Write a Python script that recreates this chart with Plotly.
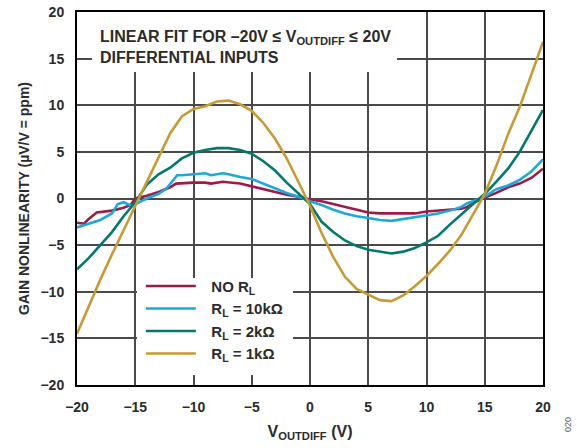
import plotly.graph_objects as go

# ---------------- data ----------------
x_vals = [-20, -19, -18, -17, -16, -15, -14, -13, -12, -11, -10, -9, -8, -7, -6, -5, -4, -3, -2, -1,
          0, 1, 2, 3, 4, 5, 6, 7, 8, 9, 10, 11, 12, 13, 14, 15, 16, 17, 18, 19, 20]

no_rl_x = [-20, -19.4, -19, -18.3, -17, -16, -15.4, -15, -14, -13, -12, -11.5, -10, -9, -8.5, -7.5, -6, -5,
           -4, -3, -2, -1, 0, 1, 2, 3, 4, 5, 6, 7, 8, 9, 10, 11, 12, 13, 13.5, 14, 15, 16, 17, 18, 19, 20]
no_rl_y = [-2.6, -2.7, -2.2, -1.5, -1.3, -1.0, -0.7, 0.0, 0.3, 0.7, 1.2, 1.6, 1.7, 1.7, 1.6, 1.8, 1.6, 1.3,
           1.0, 0.7, 0.4, 0.2, -0.1, -0.3, -0.6, -0.9, -1.2, -1.5, -1.6, -1.6, -1.6, -1.6, -1.4, -1.3, -1.2,
           -1.1, -0.9, -0.5, 0.1, 0.6, 1.2, 1.6, 2.2, 3.2]

rl10k_x = [-20, -19, -18, -17, -16.5, -16, -15.3, -15, -14, -13, -12.3, -11.4, -11, -10, -9, -8.5, -7.5, -7,
           -6, -5, -4, -3, -2, -1, 0, 1, 2, 3, 4, 5, 6, 7, 8, 9, 10, 11, 12, 13, 13.5, 14, 15, 16, 17, 18,
           19, 20]
rl10k_y = [-3.1, -2.7, -2.3, -1.6, -0.6, -0.4, -0.8, -0.6, 0.0, 0.5, 1.1, 2.5, 2.5, 2.6, 2.7, 2.5, 2.7, 2.6,
           2.3, 2.1, 1.6, 1.1, 0.6, 0.2, -0.3, -0.7, -1.2, -1.6, -1.9, -2.1, -2.3, -2.4, -2.2, -2.0, -1.8,
           -1.6, -1.3, -0.9, -0.5, -0.3, 0.2, 1.0, 1.4, 2.0, 2.9, 4.2]

rl2k_y = [-7.6, -6.4, -5.0, -3.6, -1.9, -0.4, 1.5, 2.6, 3.3, 4.3, 4.9, 5.2, 5.4, 5.4, 5.2, 4.8, 4.0, 3.0,
          1.7, 0.6, -0.6, -2.5, -3.6, -4.5, -5.1, -5.5, -5.7, -5.9, -5.7, -5.3, -4.7, -4.0, -2.8, -1.7,
          -0.6, 0.5, 1.8, 3.2, 5.0, 7.3, 9.5]

rl1k_y = [-14.5, -11.5, -8.7, -6.0, -3.4, -0.8, 1.8, 4.5, 7.0, 8.8, 9.6, 9.9, 10.4, 10.5, 10.1, 9.4, 8.1,
          6.4, 4.3, 1.8, -0.8, -3.7, -6.3, -8.4, -9.7, -10.3, -10.9, -11.0, -10.4, -9.4, -8.3, -7.0, -5.6,
          -3.9, -1.7, 0.5, 3.5, 6.9, 9.8, 13.3, 16.8]

series_names = ["\u2002\u2009NO R<sub>L</sub>", "\u2002\u2009R<sub>L</sub> = 10kΩ",
                "\u2002\u2009R<sub>L</sub> = 2kΩ", "\u2002\u2009R<sub>L</sub> = 1kΩ"]
series_colors = ["#9E1B47", "#1DA8DD", "#007A6C", "#C79A32"]

x_ticks = [-20, -15, -10, -5, 0, 5, 10, 15, 20]
y_ticks = [-20, -15, -10, -5, 0, 5, 10, 15, 20]

FONT = "Liberation Sans, Arial, Helvetica, sans-serif"
TXT = "#2b2b2b"

fig = go.Figure()
series = [(no_rl_x, no_rl_y), (rl10k_x, rl10k_y), (x_vals, rl2k_y), (x_vals, rl1k_y)]
for (xs, ys), name, col in zip(series, series_names, series_colors):
    fig.add_trace(go.Scatter(x=xs, y=ys, mode="lines", name=name,
                             line=dict(color=col, width=2.6)))

# white masks over the grid behind the note and the legend
fig.add_shape(type="rect", xref="x", yref="y", x0=-18.71, x1=7.47, y0=13.57, y1=20,
              fillcolor="white", line=dict(width=0), layer="between")
fig.add_shape(type="rect", xref="x", yref="y", x0=-14.85, x1=-1.46, y0=-18.93, y1=-8.52,
              fillcolor="white", line=dict(width=0), layer="between")

fig.add_annotation(xref="paper", yref="paper", x=0.045, y=0.906, xanchor="left", yanchor="middle",
                   align="left", showarrow=False,
                   text="LINEAR FIT FOR –20V ≤ V<sub>OUTDIFF</sub> ≤ 20V<br>DIFFERENTIAL INPUTS",
                   font=dict(family=FONT, size=16, color=TXT, weight="bold"))

fig.add_annotation(xref="paper", yref="paper", x=1.054, y=-0.107, xanchor="center", yanchor="middle",
                   showarrow=False, text="020", textangle=-90,
                   font=dict(family=FONT, size=9, color="#555555"))

axis_common = dict(showgrid=True, gridcolor="#4a4a4a", gridwidth=1.5, zeroline=False,
                   showline=True, linecolor="black", linewidth=2, mirror=True, ticks="",
                   automargin=False, ticklabelstandoff=8,
                   tickfont=dict(family=FONT, size=14, color=TXT, weight="bold"))

fig.update_xaxes(range=[-20, 20], tickvals=x_ticks, ticktext=[str(v).replace("-", "−") for v in x_ticks],
                 title=dict(text="V<sub>OUTDIFF</sub> (V)", standoff=12,
                            font=dict(family=FONT, size=16, color=TXT, weight="bold")),
                 **axis_common)
fig.update_yaxes(range=[-20, 20], tickvals=y_ticks, ticktext=[str(v).replace("-", "−") for v in y_ticks],
                 title=dict(text="GAIN NONLINEARITY (µV/V = ppm)", standoff=8,
                            font=dict(family=FONT, size=14, color=TXT, weight="bold")),
                 **axis_common)

fig.update_layout(
    width=577, height=448,
    margin=dict(l=77, r=34, t=12, b=63),
    paper_bgcolor="white", plot_bgcolor="white",
    showlegend=True,
    legend=dict(x=0.137, y=0.309, xanchor="left", yanchor="top", bgcolor="rgba(0,0,0,0)",
                borderwidth=0, itemwidth=50, tracegroupgap=0,
                font=dict(family=FONT, size=15, color=TXT, weight="bold")),
)

fig.write_html("out.html", config={"displayModeBar": False},
               post_script="document.body.style.margin='0';document.body.style.overflow='hidden';")
